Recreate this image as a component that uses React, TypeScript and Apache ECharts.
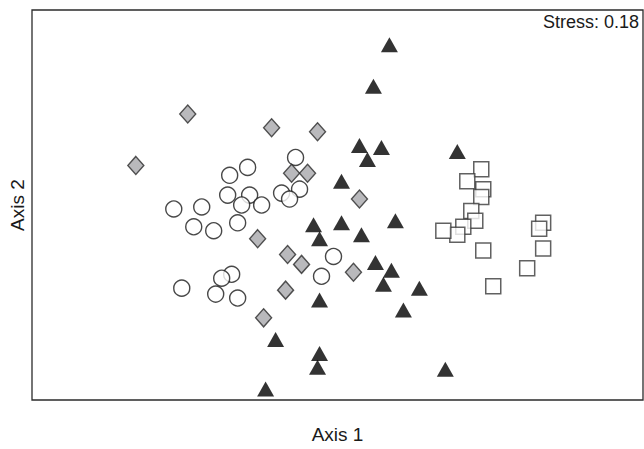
import React, { useEffect, useRef } from "react";
import * as echarts from "echarts";

// NMDS scores [Axis 1, Axis 2] per group
const groupCircles: number[][] = [
  [-0.21, 0.24], [-0.45, 0.19], [-0.54, 0.15], [-0.55, 0.05], [-0.44, 0.05],
  [-0.48, 0.0], [-0.38, 0.0], [-0.28, 0.06], [-0.19, 0.08], [-0.24, 0.03],
  [-0.82, -0.02], [-0.68, -0.01], [-0.72, -0.11], [-0.62, -0.13], [-0.5, -0.09],
  [-0.02, -0.26], [-0.08, -0.36], [-0.53, -0.35], [-0.58, -0.37], [-0.78, -0.42],
  [-0.61, -0.45], [-0.5, -0.47],
];
const groupDiamonds: number[][] = [
  [-0.75, 0.46], [-0.33, 0.39], [-0.1, 0.37], [-1.01, 0.2], [-0.23, 0.16],
  [-0.15, 0.16], [0.11, 0.03], [-0.4, -0.17], [-0.25, -0.25], [-0.18, -0.3],
  [0.08, -0.34], [-0.26, -0.43], [-0.37, -0.57],
];
const groupSquares: number[][] = [
  [0.72, 0.18], [0.65, 0.12], [0.73, 0.08], [0.72, 0.04], [0.67, -0.03],
  [0.69, -0.08], [0.63, -0.11], [0.6, -0.15], [0.53, -0.13], [0.73, -0.23],
  [1.03, -0.09], [1.01, -0.12], [1.03, -0.22], [0.95, -0.32], [0.78, -0.41],
];
const groupTriangles: number[][] = [
  [0.26, 0.81], [0.18, 0.6], [0.11, 0.3], [0.22, 0.29], [0.15, 0.23],
  [0.6, 0.27], [0.02, 0.12], [-0.12, -0.1], [0.02, -0.09], [-0.09, -0.17],
  [0.12, -0.15], [0.29, -0.08], [0.19, -0.29], [0.27, -0.33], [0.23, -0.4],
  [0.41, -0.42], [-0.09, -0.48], [0.33, -0.53], [-0.31, -0.68], [-0.09, -0.75],
  [-0.1, -0.82], [0.54, -0.83], [-0.36, -0.93],
];
const stressLabel = "Stress: 0.18";
const xRange = [-1.53, 1.53];
const yRange = [-0.985, 0.985];

const FONT = "Liberation Sans, Arial, sans-serif";

export default function App() {
  const ref = useRef<HTMLDivElement>(null);
  useEffect(() => {
    document.body.style.margin = "0";
    const chart = echarts.init(ref.current!, undefined, { renderer: "svg" });
    const hidden = {
      axisLine: { show: false },
      axisTick: { show: false },
      axisLabel: { show: false },
      splitLine: { show: false },
    };
    chart.setOption({
      animation: false,
      backgroundColor: "#ffffff",
      textStyle: { fontFamily: FONT },
      grid: {
        left: 31,
        right: 1,
        top: 10,
        bottom: 45,
        show: true,
        borderColor: "#2b2b2b",
        borderWidth: 1.3,
        backgroundColor: "transparent",
      },
      xAxis: {
        type: "value",
        min: xRange[0],
        max: xRange[1],
        name: "Axis 1",
        nameLocation: "middle",
        nameGap: 25,
        nameTextStyle: { fontSize: 19, color: "#1a1a1a", fontFamily: FONT },
        ...hidden,
      },
      yAxis: {
        type: "value",
        min: yRange[0],
        max: yRange[1],
        name: "Axis 2",
        nameLocation: "middle",
        nameGap: 5,
        nameTextStyle: { fontSize: 19, color: "#1a1a1a", fontFamily: FONT },
        ...hidden,
      },
      graphic: [
        {
          type: "text",
          right: 5,
          top: 13,
          style: {
            text: stressLabel,
            fontSize: 18,
            fill: "#1a1a1a",
            fontFamily: FONT,
          },
        },
      ],
      series: [
        {
          type: "scatter",
          data: groupSquares,
          symbol: "rect",
          symbolSize: 15,
          itemStyle: { color: "#ffffff", borderColor: "#3a3a3a", borderWidth: 1.5 },
        },
        {
          type: "scatter",
          data: groupCircles,
          symbol: "circle",
          symbolSize: 16,
          itemStyle: { color: "#ffffff", borderColor: "#1a1a1a", borderWidth: 1.4 },
        },
        {
          type: "scatter",
          data: groupDiamonds,
          symbol: "diamond",
          symbolSize: [16, 18],
          itemStyle: { color: "#a7a8ab", borderColor: "#2a2a2a", borderWidth: 1.4 },
        },
        {
          type: "scatter",
          data: groupTriangles,
          symbol: "triangle",
          symbolSize: [17, 15],
          itemStyle: { color: "#000000" },
        },
      ],
    });
    return () => chart.dispose();
  }, []);
  return <div ref={ref} style={{ width: 644, height: 449 }} />;
}
